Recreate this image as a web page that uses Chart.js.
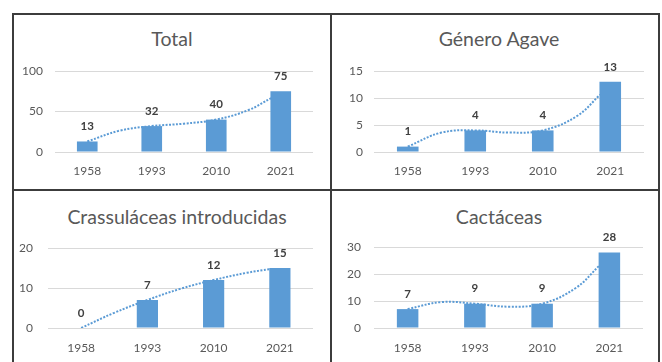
<!DOCTYPE html>
<html lang="es">
<head>
<meta charset="utf-8">
<script src="https://cdn.jsdelivr.net/npm/chart.js@4.4.1/dist/chart.umd.min.js"></script>
<style>
  html, body { margin: 0; padding: 0; background: #fff; overflow: hidden; }
  body { width: 662px; height: 362px; position: relative; font-family: Lato, "Liberation Sans", sans-serif; }
  .frame {
    position: absolute; left: 12px; top: 13px; width: 644px; height: 400px;
    border: 2px solid #3c3c3c;
  }
  .vline { position: absolute; left: 330px; top: 15px; width: 2px; height: 400px; background: #3c3c3c; }
  .hline { position: absolute; left: 14px; top: 189px; width: 644px; height: 2px; background: #3c3c3c; }
  .panel { position: absolute; }
  .title {
    position: absolute; transform: translate(-50%, -50%);
    font-size: 19.5px; line-height: 19.5px; color: #595959; white-space: nowrap;
  }
</style>
</head>
<body>
<div class="frame"></div>
<div class="vline"></div>
<div class="hline"></div>

<div class="title" style="left:172px; top:39px;">Total</div>
<div class="title" style="left:499px; top:39px;">Género Agave</div>
<div class="title" style="left:177px; top:217px;">Crassuláceas introducidas</div>
<div class="title" style="left:499px; top:217px;">Cactáceas</div>

<div class="panel" style="left:14px; top:15px; width:316px; height:174px;"><canvas id="total"></canvas></div>
<div class="panel" style="left:332px; top:15px; width:326px; height:174px;"><canvas id="agave"></canvas></div>
<div class="panel" style="left:14px; top:191px; width:316px; height:171px;"><canvas id="crass"></canvas></div>
<div class="panel" style="left:332px; top:191px; width:326px; height:171px;"><canvas id="cact"></canvas></div>

<script>
// años de cada inventario
const years = ['1958', '1993', '2010', '2021'];

// número de especies por grupo
const totalValues = [13, 32, 40, 75];
const agaveValues = [1, 4, 4, 13];
const crassValues = [0, 7, 12, 15];
const cactValues = [7, 9, 9, 28];

// marcas del eje Y de cada gráfico
const totalTicks = [0, 50, 100];
const agaveTicks = [0, 5, 10, 15];
const crassTicks = [0, 10, 20];
const cactTicks = [0, 10, 20, 30];

const trendPos = [0, 0.5, 1, 1.5, 2, 2.5, 2.85];
const totalTrend = [13, 26.3, 32, 35, 40, 51.8, 66.5];
const agaveTrend = [1, 3.6, 4, 3.6, 4, 6.6, 10.6];
const crassTrend = [0, 3.8, 7, 9.8, 12, 13.8, 14.7];
const cactTrend = [7, 9.6, 9, 7.9, 9, 14.8, 23.1];

const BLUE = '#5b9bd5';
const GRID = '#d9d9d9';
const TEXT = '#595959';

Chart.defaults.font.family = 'Lato, "Liberation Sans", sans-serif';
Chart.defaults.color = TEXT;

// etiquetas de valor encima de cada barra
const barLabels = {
    id: 'barLabels',
    afterDatasetsDraw(chart) {
        const ctx = chart.ctx;
        const meta = chart.getDatasetMeta(1);
        const values = chart.data.datasets[1].data;
        ctx.save();
        ctx.font = 'bold 11.5px Lato, "Liberation Sans", sans-serif';
        ctx.fillStyle = '#404040';
        ctx.textAlign = 'center';
        ctx.textBaseline = 'middle';
        meta.data.forEach((bar, i) => {
            ctx.fillText(String(values[i]), bar.x, bar.y - 15);
        });
        ctx.restore();
    }
};

function makeChart(id, values, trend, ticks, g) {
    const points = trendPos.map((p, i) => ({ x: p, y: trend[i] }));
    const step = ticks[1] - ticks[0];

    return new Chart(document.getElementById(id), {
        type: 'bar',
        data: {
            labels: years,
            datasets: [{
                type: 'line',
                data: points,
                xAxisID: 'xt',
                borderColor: BLUE,
                borderWidth: 2,
                borderDash: [2, 1.5],
                pointRadius: 0,
                tension: 0.4,
                fill: false,
            }, {
                data: values,
                xAxisID: 'x',
                backgroundColor: BLUE,
                grouped: false,
                barPercentage: 0.32,
                categoryPercentage: 1,
            }],
        },
        plugins: [barLabels],
        options: {
            responsive: true,
            maintainAspectRatio: false,
            animation: false,
            events: [],
            layout: { padding: { top: g.top, right: g.right, bottom: g.bottom, left: 0 } },
            plugins: { legend: { display: false }, tooltip: { enabled: false }, title: { display: false } },
            scales: {
                x: {
                    type: 'category',
                    offset: true,
                    grid: { display: false },
                    border: { display: false },
                    ticks: { padding: g.xPad, font: { size: 12 }, color: TEXT },
                    afterFit: (s) => { s.height = 30; },
                },
                xt: {
                    type: 'linear',
                    axis: 'x',
                    display: false,
                    offset: false,
                    min: -0.5,
                    max: 3.5,
                },
                y: {
                    min: ticks[0],
                    max: ticks[ticks.length - 1],
                    grid: { color: GRID, lineWidth: 1, drawTicks: false },
                    border: { display: false },
                    ticks: { stepSize: step, padding: g.yPad, font: { size: 12 }, color: TEXT },
                    afterFit: (s) => { s.width = g.left; },
                },
            },
        },
    });
}

makeChart('total', totalValues, totalTrend, totalTicks, { left: 41, right: 17, top: 56, bottom: 7, yPad: 12, xPad: 4 });
makeChart('agave', agaveValues, agaveTrend, agaveTicks, { left: 42, right: 14, top: 56, bottom: 7, yPad: 11, xPad: 4 });
makeChart('crass', crassValues, crassTrend, crassTicks, { left: 34, right: 17, top: 57, bottom: 4, yPad: 15, xPad: 4.5 });
makeChart('cact', cactValues, cactTrend, cactTicks, { left: 42, right: 15, top: 56, bottom: 4, yPad: 13, xPad: 4.5 });
</script>
</body>
</html>
